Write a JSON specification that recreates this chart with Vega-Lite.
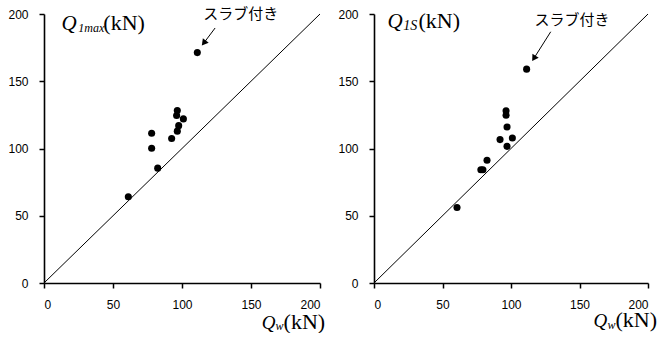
{
  "$schema": "https://vega.github.io/schema/vega-lite/v6.json",
  "background": "white",
  "padding": {"left": 7, "top": 7, "right": 0, "bottom": 0},
  "spacing": 11,
  "config": {
    "view": {"stroke": null},
    "axis": {
      "grid": false,
      "domainColor": "black",
      "domainWidth": 1.6,
      "ticks": true,
      "tickColor": "black",
      "tickWidth": 1.5,
      "tickSize": 5,
      "labelFont": "Liberation Sans",
      "labelFontSize": 12,
      "labelColor": "black",
      "title": null
    },
    "axisX": {"labelPadding": 11, "encode": {"ticks": {"update": {"y2": {"value": -5}}}}},
    "axisY": {"labelPadding": 11, "encode": {"ticks": {"update": {"x2": {"value": 5}}}}}
  },
  "datasets": {
    "left": [
      {"Qw": 111.1, "Q": 171.3},
      {"Qw": 96.6, "Q": 128.2},
      {"Qw": 96.1, "Q": 124.5},
      {"Qw": 101.0, "Q": 122.0},
      {"Qw": 97.6, "Q": 117.0},
      {"Qw": 96.6, "Q": 112.9},
      {"Qw": 92.5, "Q": 107.4},
      {"Qw": 78.0, "Q": 111.4},
      {"Qw": 78.0, "Q": 100.2},
      {"Qw": 82.4, "Q": 85.4},
      {"Qw": 61.1, "Q": 64.1}
    ],
    "right": [
      {"Qw": 111.4, "Q": 159.0},
      {"Qw": 96.4, "Q": 128.0},
      {"Qw": 96.4, "Q": 124.7},
      {"Qw": 97.1, "Q": 116.0},
      {"Qw": 92.0, "Q": 106.6},
      {"Qw": 101.0, "Q": 107.8},
      {"Qw": 97.1, "Q": 101.6},
      {"Qw": 82.5, "Q": 91.2},
      {"Qw": 78.0, "Q": 84.2},
      {"Qw": 79.5, "Q": 84.2},
      {"Qw": 60.6, "Q": 56.1}
    ]
  },
  "hconcat": [
    {
      "width": 276,
      "height": 269,
      "data": {"values": [{}]},
      "layer": [
        {
          "mark": {"type": "rule", "color": "black", "strokeWidth": 1},
          "encoding": {
            "x": {"datum": 0, "type": "quantitative", "scale": {"domain": [0, 200], "nice": false}, "axis": {"values": [0, 50, 100, 150, 200]}},
            "y": {"datum": 0, "type": "quantitative", "scale": {"domain": [0, 200], "nice": false}, "axis": {"values": [0, 50, 100, 150, 200]}},
            "x2": {"datum": 200},
            "y2": {"datum": 200}
          }
        },
        {
          "data": {"name": "left"},
          "mark": {"type": "point", "filled": true, "color": "black", "opacity": 1, "size": 50},
          "encoding": {
            "x": {"field": "Qw", "type": "quantitative"},
            "y": {"field": "Q", "type": "quantitative"}
          }
        },
        {
          "mark": {"type": "rule", "color": "black", "strokeWidth": 1},
          "encoding": {"x": {"datum": 124}, "y": {"datum": 189.6}, "x2": {"datum": 115.8}, "y2": {"datum": 178.4}}
        },
        {
          "mark": {"type": "point", "shape": "triangle-up", "filled": true, "color": "black", "opacity": 1, "size": 55, "angle": 218},
          "encoding": {"x": {"datum": 115.8}, "y": {"datum": 178.4}}
        },
        {
          "mark": {"type": "text", "text": "スラブ付き", "font": "Noto Sans CJK JP", "fontSize": 15, "align": "center", "baseline": "middle", "color": "black"},
          "encoding": {"x": {"datum": 142.5}, "y": {"datum": 200}}
        },
        {
          "mark": {"type": "text", "text": "Q", "font": "Liberation Serif", "fontStyle": "italic", "fontSize": 21, "align": "left", "baseline": "alphabetic", "color": "black"},
          "encoding": {"x": {"datum": 12.75}, "y": {"datum": 188.1}}
        },
        {
          "mark": {"type": "text", "text": "1max", "font": "Liberation Serif", "fontStyle": "italic", "fontSize": 12, "align": "left", "baseline": "alphabetic", "color": "black"},
          "encoding": {"x": {"datum": 24.9}, "y": {"datum": 186.6}}
        },
        {
          "mark": {"type": "text", "text": "(kN)", "font": "Liberation Serif", "fontSize": 22, "align": "left", "baseline": "alphabetic", "color": "black"},
          "encoding": {"x": {"datum": 43}, "y": {"datum": 188.1}}
        },
        {
          "mark": {"type": "text", "text": "Q", "font": "Liberation Serif", "fontStyle": "italic", "fontSize": 19, "align": "left", "baseline": "alphabetic", "color": "black"},
          "encoding": {"x": {"datum": 157.7}, "y": {"datum": -33.9}}
        },
        {
          "mark": {"type": "text", "text": "w", "font": "Liberation Serif", "fontStyle": "italic", "fontSize": 12, "align": "left", "baseline": "alphabetic", "color": "black"},
          "encoding": {"x": {"datum": 167.7}, "y": {"datum": -35.3}}
        },
        {
          "mark": {"type": "text", "text": "(kN)", "font": "Liberation Serif", "fontSize": 22, "align": "left", "baseline": "alphabetic", "color": "black"},
          "encoding": {"x": {"datum": 173.6}, "y": {"datum": -33.9}}
        }
      ]
    },
    {
      "width": 274,
      "height": 269,
      "data": {"values": [{}]},
      "layer": [
        {
          "mark": {"type": "rule", "color": "black", "strokeWidth": 1},
          "encoding": {
            "x": {"datum": 0, "type": "quantitative", "scale": {"domain": [0, 200], "nice": false}, "axis": {"values": [0, 50, 100, 150, 200]}},
            "y": {"datum": 0, "type": "quantitative", "scale": {"domain": [0, 200], "nice": false}, "axis": {"values": [0, 50, 100, 150, 200]}},
            "x2": {"datum": 200},
            "y2": {"datum": 200}
          }
        },
        {
          "data": {"name": "right"},
          "mark": {"type": "point", "filled": true, "color": "black", "opacity": 1, "size": 50},
          "encoding": {
            "x": {"field": "Qw", "type": "quantitative"},
            "y": {"field": "Q", "type": "quantitative"}
          }
        },
        {
          "mark": {"type": "rule", "color": "black", "strokeWidth": 1},
          "encoding": {"x": {"datum": 129}, "y": {"datum": 186.8}, "x2": {"datum": 116.7}, "y2": {"datum": 167}}
        },
        {
          "mark": {"type": "point", "shape": "triangle-up", "filled": true, "color": "black", "opacity": 1, "size": 55, "angle": 212},
          "encoding": {"x": {"datum": 116.7}, "y": {"datum": 167}}
        },
        {
          "mark": {"type": "text", "text": "スラブ付き", "font": "Noto Sans CJK JP", "fontSize": 15, "align": "center", "baseline": "middle", "color": "black"},
          "encoding": {"x": {"datum": 144.5}, "y": {"datum": 195.5}}
        },
        {
          "mark": {"type": "text", "text": "Q", "font": "Liberation Serif", "fontStyle": "italic", "fontSize": 21, "align": "left", "baseline": "alphabetic", "color": "black"},
          "encoding": {"x": {"datum": 9.8}, "y": {"datum": 189.6}}
        },
        {
          "mark": {"type": "text", "text": "1S", "font": "Liberation Serif", "fontStyle": "italic", "fontSize": 14, "align": "left", "baseline": "alphabetic", "color": "black"},
          "encoding": {"x": {"datum": 21.3}, "y": {"datum": 188}}
        },
        {
          "mark": {"type": "text", "text": "(kN)", "font": "Liberation Serif", "fontSize": 22, "align": "left", "baseline": "alphabetic", "color": "black"},
          "encoding": {"x": {"datum": 32.5}, "y": {"datum": 189.6}}
        },
        {
          "mark": {"type": "text", "text": "Q", "font": "Liberation Serif", "fontStyle": "italic", "fontSize": 19, "align": "left", "baseline": "alphabetic", "color": "black"},
          "encoding": {"x": {"datum": 160.3}, "y": {"datum": -32.9}}
        },
        {
          "mark": {"type": "text", "text": "w", "font": "Liberation Serif", "fontStyle": "italic", "fontSize": 12, "align": "left", "baseline": "alphabetic", "color": "black"},
          "encoding": {"x": {"datum": 170.4}, "y": {"datum": -34.3}}
        },
        {
          "mark": {"type": "text", "text": "(kN)", "font": "Liberation Serif", "fontSize": 22, "align": "left", "baseline": "alphabetic", "color": "black"},
          "encoding": {"x": {"datum": 176.3}, "y": {"datum": -32.9}}
        }
      ]
    }
  ]
}
